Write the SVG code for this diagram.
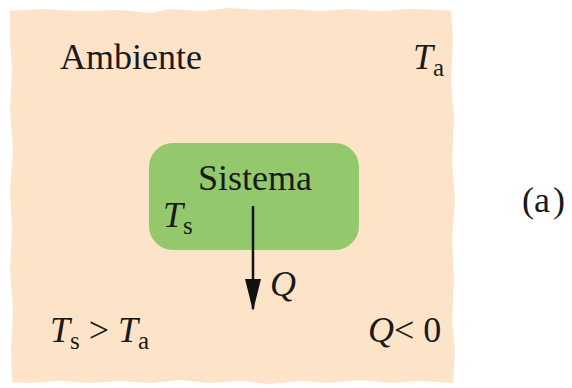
<svg xmlns="http://www.w3.org/2000/svg" width="572" height="388" viewBox="0 0 572 388">
<style>
.t{font-family:"Liberation Serif","Times New Roman",serif;font-size:36px;fill:#1a1a1a}
.i{font-style:italic}
.sub{font-size:25px;font-style:normal}
</style>
<defs>
<marker id="ah" viewBox="0 0 32 16" refX="30" refY="8" markerWidth="32" markerHeight="16" orient="auto" markerUnits="userSpaceOnUse">
<path d="M0,0 L32,8 L0,16 Z" fill="#111"/>
</marker>
</defs>
<rect width="572" height="388" fill="#fff"/>
<g id="ambiente">
<path d="M10,11 L40,9 L80,11 L120,10 L150,13 L170,9 L200,11 L230,8 L260,10 L290,9 L320,11 L350,9 L380,11 L410,9 L440,10 L451,11 L453,40 L451,80 L454,120 L452,160 L455,200 L452,240 L454,280 L452,320 L455,350 L453,383 L420,381 L390,383 L360,380 L330,383 L300,381 L270,384 L240,381 L210,383 L180,380 L150,383 L120,381 L90,383 L60,381 L30,383 L12,382 L11,350 L13,310 L10,270 L12,230 L10,190 L13,150 L10,110 L12,70 L10,40 Z" fill="#fde4c9"/>
<text class="t" x="60" y="69">Ambiente</text>
<text class="t" x="413" y="69"><tspan class="i">T</tspan><tspan class="sub" dy="7">a</tspan></text>
<text class="t" x="50" y="342"><tspan class="i">T</tspan><tspan class="sub" dy="7">s</tspan><tspan dy="-7"> &gt; </tspan><tspan class="i">T</tspan><tspan class="sub" dy="7">a</tspan></text>
<text class="t" x="368" y="342"><tspan class="i">Q</tspan>&lt; 0</text>
</g>
<g id="sistema">
<rect x="149" y="143" width="210" height="107" rx="24" fill="#93c96c"/>
<text class="t" x="255" y="190" text-anchor="middle">Sistema</text>
<text class="t" x="163" y="227"><tspan class="i">T</tspan><tspan class="sub" dy="7">s</tspan></text>
</g>
<g id="connectors">
<line x1="253" y1="206" x2="253" y2="309" stroke="#111" stroke-width="2.5" marker-end="url(#ah)"/>
<text class="t i" x="270" y="296">Q</text>
</g>
<text class="t" x="522" y="212">(a<tspan dx="3">)</tspan></text>
</svg>
